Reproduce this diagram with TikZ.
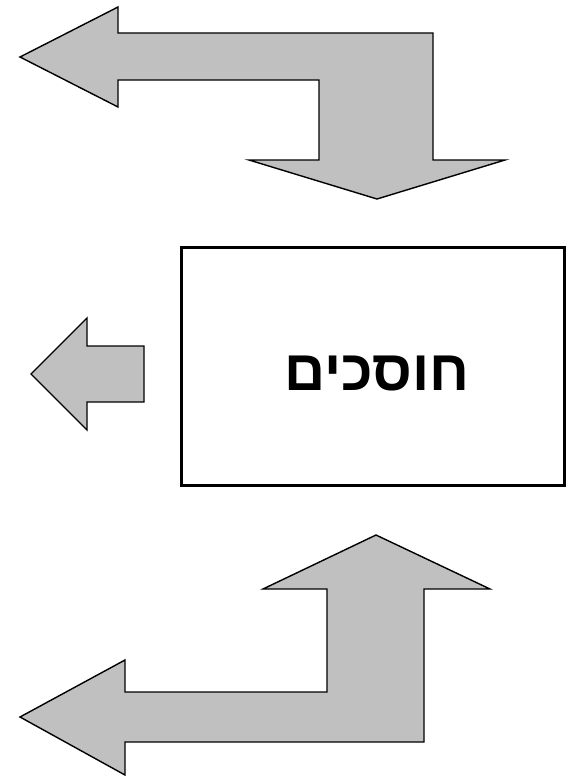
\documentclass[tikz,border=0pt]{standalone}
\usepackage{fontspec}
\newfontfamily\hebfont[Script=Hebrew]{Liberation Sans}
\TeXXeTstate=1
\definecolor{arrowgray}{RGB}{192,192,192}
\tikzset{
  bentarrow/.style={draw, fill=arrowgray, line width=1.4pt, line join=miter},
  savebox/.style={draw, line width=3pt, minimum width=383pt, minimum height=238pt,
    inner sep=0pt},
  savelabel/.style={font=\hebfont\bfseries\fontsize{57}{60}\selectfont, inner sep=0pt}
}
\begin{document}
\begin{tikzpicture}[x=1pt,y=-1pt]
  \useasboundingbox (0,0) rectangle (576,776);
  % top arrow
  \draw[bentarrow] (20,57) -- (118,7) -- (118,33) -- (433,33) -- (433,160)
    -- (505,160) -- (377,199) -- (249,160) -- (319,160) -- (319,80)
    -- (118,80) -- (118,107) -- cycle;
  % box
  \node[savebox] (save) at (373,366.5) {};
  \node[savelabel] (savetext) at (377,374) {\beginR חוסכים\endR};
  % small arrow
  \draw[bentarrow] (31,374) -- (87,318) -- (87,346) -- (144,346)
    -- (144,402) -- (87,402) -- (87,430) -- cycle;
  % bottom arrow
  \draw[bentarrow] (376,535) -- (490,589) -- (424,589) -- (424,742)
    -- (125,742) -- (125,775) -- (20,717) -- (125,660) -- (125,692)
    -- (327,692) -- (327,589) -- (263,589) -- cycle;
\end{tikzpicture}
\end{document}
